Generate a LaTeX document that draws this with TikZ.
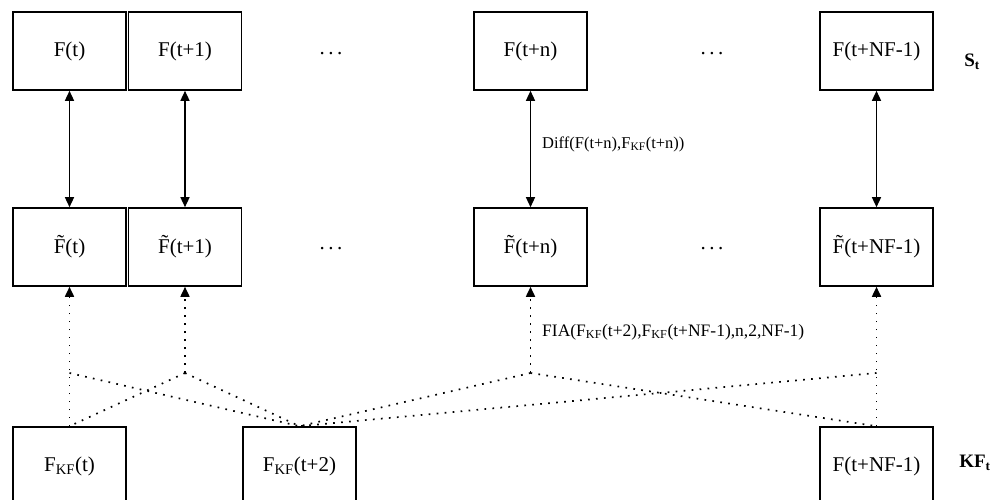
\documentclass[tikz,border=0pt]{standalone}
\usepackage{fontspec}
\setmainfont{Liberation Serif}
\usetikzlibrary{arrows.meta}
\begin{document}
\begin{tikzpicture}[x=1pt,y=-1pt,
  box/.style={draw,line width=1.6pt,minimum width=113pt,minimum height=78pt,inner sep=0pt,font=\fontsize{21}{24}\selectfont},
  txt/.style={inner sep=0pt,font=\fontsize{21}{24}\selectfont},
  lbl/.style={inner sep=0pt,font=\fontsize{16.5}{20}\selectfont,anchor=west},
  dbl/.style={{Triangle[length=10pt,width=9pt]}-{Triangle[length=10pt,width=9pt]},line width=1.4pt},
  dot/.style={line width=1.7pt,dash pattern=on 1.7pt off 6.3pt},
  dottip/.style={dot,-{Triangle[length=10pt,width=9pt,sep=0pt]}}
]
\useasboundingbox (0,0) rectangle (1003,500);
\clip (0,0) rectangle (1003,500);
% top row
\node[box] (t1) at (69.5,51) {F(t)};
\node[box] (t2) at (185,51) {F(t+1)};
\node[box] (tn) at (530.5,51) {F(t+n)};
\node[box] (tN) at (876.5,51) {F(t+NF-1)};
\node[txt] (td1) at (331,54) {.\,.\,.};
\node[txt] (td2) at (712,54) {.\,.\,.};
\node[txt,font=\fontsize{19}{22}\selectfont\bfseries] (St) at (972,62) {S\textsubscript{t}};
% middle row
\node[box] (m1) at (69.5,247) {\~{F}(t)};
\node[box] (m2) at (185,247) {\~{F}(t+1)};
\node[box] (mn) at (530.5,247) {\~{F}(t+n)};
\node[box] (mN) at (876.5,247) {\~{F}(t+NF-1)};
\node[txt] (md1) at (331,249) {.\,.\,.};
\node[txt] (md2) at (712,249) {.\,.\,.};
% bottom row
\node[box] (k0) at (69.5,466) {F\textsubscript{KF}(t)};
\node[box] (k2) at (299.5,466) {F\textsubscript{KF}(t+2)};
\node[box] (kN) at (876.5,466) {F(t+NF-1)};
\node[txt,font=\fontsize{19}{22}\selectfont\bfseries] (KFt) at (975,463) {KF\textsubscript{t}};
% solid double arrows
\draw[dbl] (t1.south) -- (m1.north);
\draw[dbl] (t2.south) -- (m2.north);
\draw[dbl] (tn.south) -- (mn.north);
\draw[dbl] (tN.south) -- (mN.north);
\node[lbl] (dl) at (542,144) {Diff(F(t+n),F\textsubscript{KF}(t+n))};
% junctions
\coordinate (j1) at (69.5,373);
\coordinate (j2) at (185,373);
\coordinate (jn) at (530.5,373);
\coordinate (jN) at (876.5,373);
% dotted connectors
\draw[dottip] (k0.north) -- (m1.south);
\draw[dot] (j1) -- (k2.north);
\draw[dottip] (j2) -- (m2.south);
\draw[dot] (j2) -- (k0.north);
\draw[dot] (j2) -- (k2.north);
\draw[dottip] (jn) -- (mn.south);
\draw[dot] (jn) -- (k2.north);
\draw[dot] (jn) -- (kN.north);
\draw[dottip] (kN.north) -- (mN.south);
\draw[dot] (jN) -- (k2.north);
\node[lbl,font=\fontsize{17.5}{20}\selectfont] (fl) at (542,332) {FIA(F\textsubscript{KF}(t+2),F\textsubscript{KF}(t+NF-1),n,2,NF-1)};
\end{tikzpicture}
\end{document}
